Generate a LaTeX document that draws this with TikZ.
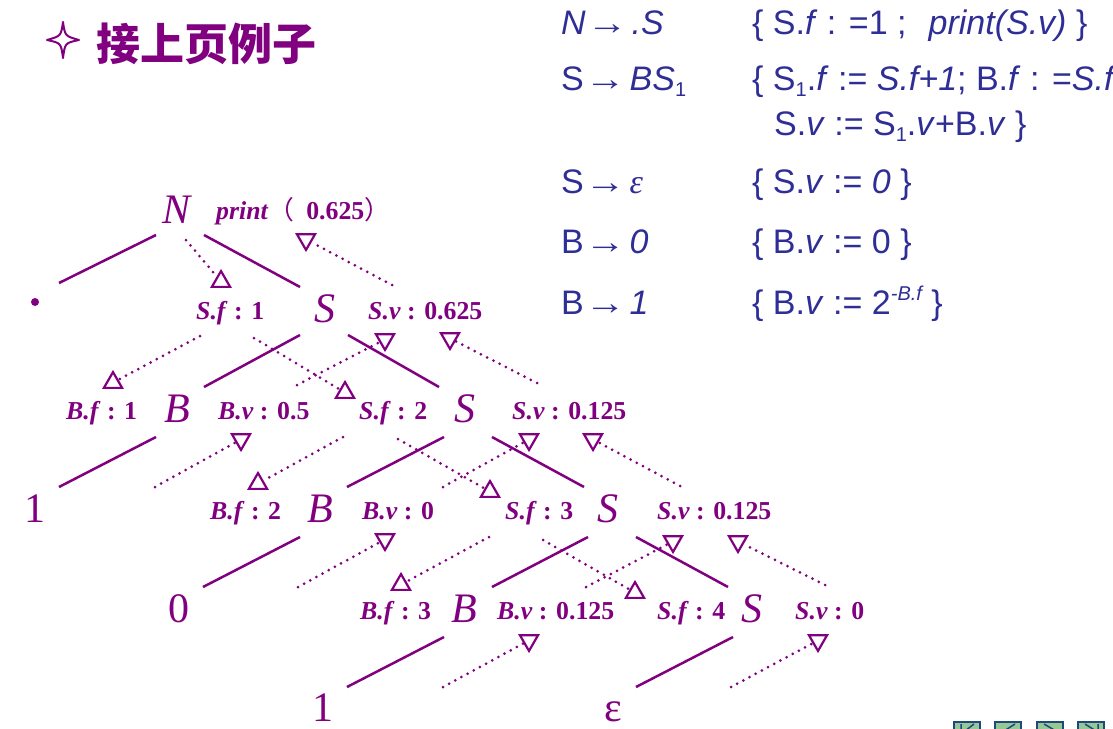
\documentclass[tikz,border=0pt]{standalone}
\usepackage{fontspec}
\setmainfont{Liberation Serif}
\newfontfamily\sansf{Liberation Sans}
\newfontfamily\cjk{Noto Sans CJK SC}
\usetikzlibrary{shapes.geometric}
\definecolor{pur}{RGB}{128,0,128}
\definecolor{blu}{RGB}{46,46,150}
\definecolor{navfill}{RGB}{150,200,150}
\definecolor{navline}{RGB}{31,73,125}
\newcommand{\ssub}[1]{\raisebox{-6pt}{\fontsize{20}{20}\selectfont #1}}
\newcommand{\ssup}[1]{\raisebox{14pt}{\fontsize{20}{20}\selectfont #1}}
\newcommand{\rarr}{\hspace{1pt}\scalebox{1.2}[1]{\upshape →}\hspace{4pt}}
\begin{document}
\begin{tikzpicture}[x=1pt,y=-1pt,
  bigsym/.style={anchor=base, inner sep=0pt, text=pur, font=\fontsize{42}{42}\selectfont\itshape},
  leafsym/.style={anchor=base, inner sep=0pt, text=pur, font=\fontsize{42}{42}\selectfont},
  lab/.style={anchor=base west, inner sep=0pt, text=pur, font=\fontsize{25.8}{26}\selectfont\bfseries},
  treeline/.style={draw=pur, line width=2.5pt},
  depline/.style={draw=pur, line width=3pt, line cap=round, dash pattern=on 0pt off 7pt},
  tri/.style={regular polygon, regular polygon sides=3, draw=pur, line width=2.2pt, minimum size=21pt, inner sep=0pt},
  triup/.style={tri},
  tridown/.style={tri, shape border rotate=180},
  rule/.style={anchor=base west, inner sep=0pt, text=blu, font=\sansf\fontsize{34}{34}\selectfont},
  navbox/.style={draw=navline, fill=navfill, line width=1.5pt}
]
\useasboundingbox (0,0) rectangle (1113,728);
\begin{scope}
\clip (0,0) rectangle (1113,728);

% title
\draw[pur, line width=2pt, line join=round]
  (63,22) .. controls (65,36) .. (79,40)
  .. controls (65,43) .. (63,58)
  .. controls (61,43) .. (47,40)
  .. controls (61,36) .. cycle;
\node[anchor=base west, inner sep=0pt, text=pur, font=\cjk\bfseries\fontsize{44}{44}\selectfont] (title) at (96,60) {接上页例子};

% rules
\node[rule] (r1l) at (561,34) {\itshape N\rarr.S};
\node[rule] (r1r) at (752,34) {\{ S.\textit{f} : =1 ;\hspace{22pt}\textit{print(S.v)} \}};
\node[rule] (r2l) at (561,90) {S\rarr\textit{BS}\ssub{1}};
\node[rule] (r2r) at (752,90) {\{ S\ssub{1}.\textit{f} := \textit{S.f+1}; B.\textit{f} : =\textit{S.f}};
\node[rule] (r2b) at (774,135) {S.\textit{v} := S\ssub{1}.\textit{v}+B.\textit{v} \}};
\node[rule] (r3l) at (561,193) {S\rarr{\rmfamily\itshape ε}};
\node[rule] (r3r) at (752,193) {\{ S.\textit{v} := \textit{0} \}};
\node[rule] (r4l) at (561,253) {B\rarr\textit{0}};
\node[rule] (r4r) at (752,253) {\{ B.\textit{v} := 0 \}};
\node[rule] (r5l) at (561,314) {B\rarr\textit{1}};
\node[rule] (r5r) at (752,314) {\{ B.\textit{v} := 2\ssup{\itshape -B.f} \}};

% tree nodes
\node[bigsym] (N) at (177,223) {N};
\node[lab] (pr) at (216,219) {\textit{print}{\cjk\mdseries （}\hspace{12pt}0.625{\cjk\mdseries ）}};
\node[circle, fill=pur, inner sep=0pt, minimum size=8pt] (dot) at (35,302) {};
\node[lab] (sf1) at (196,319) {\textit{S.f} : 1};
\node[bigsym] (S1) at (325,322) {S};
\node[lab] (sv1) at (368,319) {\textit{S.v} : 0.625};
\node[lab] (bf1) at (66,419) {\textit{B.f} : 1};
\node[bigsym] (B1) at (177,422) {B};
\node[lab] (bv1) at (218,419) {\textit{B.v} : 0.5};
\node[lab] (sf2) at (359,419) {\textit{S.f} : 2};
\node[bigsym] (S2) at (465,422) {S};
\node[lab] (sv2) at (512,419) {\textit{S.v} : 0.125};
\node[leafsym] (one1) at (35,522) {1};
\node[lab] (bf2) at (210,519) {\textit{B.f} : 2};
\node[bigsym] (B2) at (320,522) {B};
\node[lab] (bv2) at (362,519) {\textit{B.v} : 0};
\node[lab] (sf3) at (505,519) {\textit{S.f} : 3};
\node[bigsym] (S3) at (608,522) {S};
\node[lab] (sv3) at (657,519) {\textit{S.v} : 0.125};
\node[leafsym] (zero) at (179,622) {0};
\node[lab] (bf3) at (360,619) {\textit{B.f} : 3};
\node[bigsym] (B3) at (464,622) {B};
\node[lab] (bv3) at (497,619) {\textit{B.v} : 0.125};
\node[lab] (sf4) at (657,619) {\textit{S.f} : 4};
\node[bigsym] (S4) at (752,622) {S};
\node[lab] (sv4) at (795,619) {\textit{S.v} : 0};
\node[leafsym] (one2) at (323,721) {1};
\node[leafsym] (eps) at (613,721) {ε};

% tree edges
\draw[treeline] ([shift={(-21,12)}]N.base) -- ([shift={(24,-19)}]dot.center);
\draw[treeline] ([shift={(27,12)}]N.base) -- ([shift={(-25,-35)}]S1.base);
\draw[treeline] ([shift={(-25,13)}]S1.base) -- ([shift={(27,-35)}]B1.base);
\draw[treeline] ([shift={(23,13)}]S1.base) -- ([shift={(-26,-35)}]S2.base);
\draw[treeline] ([shift={(-21,15)}]B1.base) -- ([shift={(24,-35)}]one1.base);
\draw[treeline] ([shift={(-21,15)}]S2.base) -- ([shift={(27,-35)}]B2.base);
\draw[treeline] ([shift={(27,15)}]S2.base) -- ([shift={(-24,-35)}]S3.base);
\draw[treeline] ([shift={(-20,15)}]B2.base) -- ([shift={(24,-35)}]zero.base);
\draw[treeline] ([shift={(-20,15)}]S3.base) -- ([shift={(28,-35)}]B3.base);
\draw[treeline] ([shift={(28,15)}]S3.base) -- ([shift={(-24,-35)}]S4.base);
\draw[treeline] ([shift={(-20,15)}]B3.base) -- ([shift={(24,-34)}]one2.base);
\draw[treeline] ([shift={(-19,15)}]S4.base) -- ([shift={(23,-34)}]eps.base);

% dependency triangles
\node[triup] (t1) at (221,281.6) {};
\node[tridown] (t2) at (306,239.4) {};
\node[triup] (t3) at (113,382.6) {};
\node[triup] (t4) at (345,392.6) {};
\node[tridown] (t5) at (385,339.4) {};
\node[tridown] (t6) at (450,338.4) {};
\node[triup] (t7) at (258,483.6) {};
\node[triup] (t8) at (490,491.6) {};
\node[tridown] (t9) at (241,439.4) {};
\node[tridown] (t10) at (529,439.4) {};
\node[tridown] (t11) at (593,439.4) {};
\node[tridown] (t12) at (385,539.4) {};
\node[triup] (t13) at (401,584.6) {};
\node[triup] (t14) at (635,592.6) {};
\node[tridown] (t15) at (673,541.4) {};
\node[tridown] (t16) at (738,541.4) {};
\node[tridown] (t17) at (529,640.4) {};
\node[tridown] (t18) at (818,640.4) {};

% dependency lines
\draw[depline] ([shift={(9,17)}]N.base) -- (t1);
\draw[depline] ([shift={(24,-34)}]sv1.base west) -- (t2);
\draw[depline] ([shift={(4,17)}]sf1.base west) -- (t3);
\draw[depline] ([shift={(58,19)}]sf1.base west) -- (t4);
\draw[depline] ([shift={(79,-34)}]bv1.base west) -- (t5);
\draw[depline] ([shift={(25,-36)}]sv2.base west) -- (t6);
\draw[depline] ([shift={(-16,18)}]sf2.base west) -- (t7);
\draw[depline] ([shift={(39,20)}]sf2.base west) -- (t8);
\draw[depline] ([shift={(120,-35)}]one1.base) -- (t9);
\draw[depline] ([shift={(81,-32)}]bv2.base west) -- (t10);
\draw[depline] ([shift={(23,-33)}]sv3.base west) -- (t11);
\draw[depline] ([shift={(119,-35)}]zero.base) -- (t12);
\draw[depline] ([shift={(-16,18)}]sf3.base west) -- (t13);
\draw[depline] ([shift={(38,21)}]sf3.base west) -- (t14);
\draw[depline] ([shift={(89,-32)}]bv3.base west) -- (t15);
\draw[depline] ([shift={(30,-34)}]sv4.base west) -- (t16);
\draw[depline] ([shift={(120,-34)}]one2.base) -- (t17);
\draw[depline] ([shift={(118,-34)}]eps.base) -- (t18);

% navigation buttons
\foreach \xx in {954,995,1037,1078} {
  \draw[navbox] (\xx,722) rectangle ++(26,20);
}
\draw[navline, line width=1.5pt] (961,724) -- (961,740) (974,724) -- (965,731);
\draw[navline, line width=1.5pt] (1015,724) -- (1004,731);
\draw[navline, line width=1.5pt] (1044,724) -- (1056,731);
\draw[navline, line width=1.5pt] (1085,724) -- (1096,731) (1098,724) -- (1098,740);
\end{scope}
\end{tikzpicture}
\end{document}
